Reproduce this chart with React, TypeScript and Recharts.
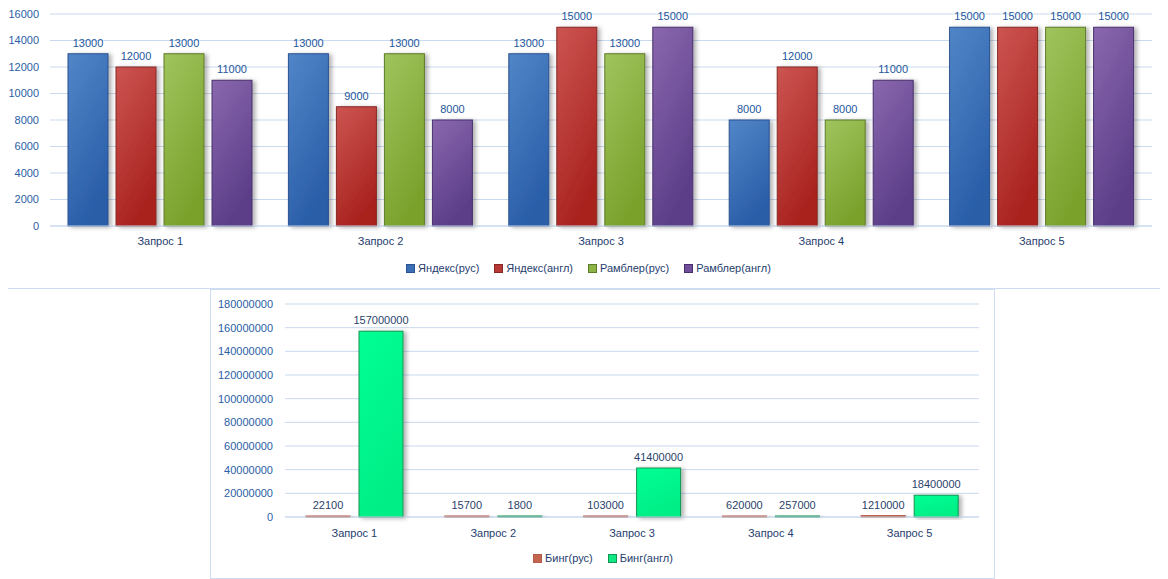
import React from 'react';
import { BarChart, Bar, XAxis, YAxis, CartesianGrid, Legend, LabelList } from 'recharts';

const categories = ['Запрос 1', 'Запрос 2', 'Запрос 3', 'Запрос 4', 'Запрос 5'];

const yandexRus = [13000, 13000, 13000, 8000, 15000];
const yandexEng = [12000, 9000, 15000, 12000, 15000];
const ramblerRus = [13000, 13000, 13000, 8000, 15000];
const ramblerEng = [11000, 8000, 15000, 11000, 15000];
const topTicks = [0, 2000, 4000, 6000, 8000, 10000, 12000, 14000, 16000];

const bingRus = [22100, 15700, 103000, 620000, 1210000];
const bingEng = [157000000, 1800, 41400000, 257000, 18400000];
const bottomTicks = [0, 20000000, 40000000, 60000000, 80000000, 100000000, 120000000, 140000000, 160000000, 180000000];

const topData = categories.map((name, i) => ({
  name,
  yr: yandexRus[i],
  ye: yandexEng[i],
  rr: ramblerRus[i],
  re: ramblerEng[i],
}));

const bottomData = categories.map((name, i) => ({
  name,
  br: bingRus[i],
  be: bingEng[i],
}));

const FONT = '"Liberation Sans", Arial, sans-serif';
const GRID = '#c9d9ee';
const BORDER = '#cddcf0';

const topSeries = [
  { key: 'yr', name: 'Яндекс(рус)', light: '#5186c8', dark: '#2a5ea8', edge: '#2a5190', swatch: '#3a6fb5' },
  { key: 'ye', name: 'Яндекс(англ)', light: '#cc5552', dark: '#a9231f', edge: '#862824', swatch: '#b83a36' },
  { key: 'rr', name: 'Рамблер(рус)', light: '#a0c45e', dark: '#7aa22c', edge: '#5d7a28', swatch: '#8db446' },
  { key: 're', name: 'Рамблер(англ)', light: '#8a68ae', dark: '#5b3d88', edge: '#47306c', swatch: '#714f9c' },
];

const bottomSeries = [
  { key: 'br', name: 'Бинг(рус)', light: '#d0806c', dark: '#b8503e', edge: '#b85c48', swatch: '#c4664f' },
  { key: 'be', name: 'Бинг(англ)', light: '#00ff94', dark: '#00ee86', edge: '#129452', swatch: '#10e884' },
];

const ShadowBar = (props: any) => {
  const { x, y, width, height, fill, stroke } = props;
  if (!width || height == null) return null;
  const h = Math.max(height, 0);
  return (
    <rect x={x} y={y} width={width} height={h} fill={fill} stroke={stroke} strokeWidth={1} filter="url(#barShadow)" />
  );
};

const makeLegend = (series: typeof topSeries, padLeft: number) => () => (
  <div style={{ display: 'flex', justifyContent: 'center', alignItems: 'center', height: 20, paddingLeft: padLeft, fontFamily: FONT, fontSize: 11, color: '#1f3d6e' }}>
    {series.map((s, i) => (
      <div key={s.key} style={{ display: 'flex', alignItems: 'center', marginRight: i < series.length - 1 ? 15 : 0 }}>
        <span style={{ display: 'inline-block', width: 7, height: 7, background: s.swatch, border: `1px solid ${s.edge}`, marginRight: 3 }} />
        <span>{s.name}</span>
      </div>
    ))}
  </div>
);

const Defs = ({ series }: { series: typeof topSeries }) => (
  <defs>
    <filter id="barShadow" x="-20%" y="-5%" width="150%" height="115%">
      <feDropShadow dx="3" dy="1" stdDeviation="2" floodColor="#000" floodOpacity="0.3" />
    </filter>
    {series.map((s) => (
      <linearGradient key={s.key} id={`g-${s.key}`} x1="0" y1="0" x2="0.4" y2="1">
        <stop offset="0%" stopColor={s.light} />
        <stop offset="100%" stopColor={s.dark} />
      </linearGradient>
    ))}
  </defs>
);

export default function App() {
  return (
    <div style={{ position: 'relative', width: 1168, height: 579, fontFamily: FONT }}>
      <div style={{ position: 'absolute', left: -8, top: -8, width: 1165, height: 287, border: `1px solid ${BORDER}`, background: '#fff' }}>
        <BarChart width={1165} height={287} data={topData} margin={{ top: 13, right: 14, bottom: 10, left: 0 }} barCategoryGap={18} barGap={8}>
          <Defs series={topSeries} />
          <CartesianGrid vertical={false} stroke={GRID} />
          <XAxis dataKey="name" axisLine={{ stroke: GRID }} tickLine={false} height={32} tickMargin={5} tick={{ fill: '#1f3d6e', fontSize: 11, fontFamily: FONT }} />
          <YAxis width={49} domain={[0, 16000]} ticks={topTicks} axisLine={false} tickLine={false} tickMargin={5} tick={{ fill: '#2a5ea6', fontSize: 11, fontFamily: FONT }} />
          <Legend verticalAlign="bottom" content={makeLegend(topSeries, 24)} />
          {topSeries.map((s) => (
            <Bar key={s.key} dataKey={s.key} name={s.name} fill={`url(#g-${s.key})`} stroke={s.edge} shape={ShadowBar} isAnimationActive={false}>
              <LabelList dataKey={s.key} position="top" offset={7} fill="#24579c" fontSize={11} fontFamily={FONT} />
            </Bar>
          ))}
        </BarChart>
      </div>
      <div style={{ position: 'absolute', left: 202, top: 281, width: 783, height: 288, border: `1px solid ${BORDER}`, background: '#fff' }}>
        <BarChart width={783} height={288} data={bottomData} margin={{ top: 14, right: 15, bottom: 10, left: 0 }} barCategoryGap={21} barGap={9}>
          <Defs series={bottomSeries} />
          <CartesianGrid vertical={false} stroke={GRID} />
          <XAxis dataKey="name" axisLine={{ stroke: GRID }} tickLine={false} height={31} tickMargin={6} tick={{ fill: '#1f3d6e', fontSize: 11, fontFamily: FONT }} />
          <YAxis width={74} domain={[0, 180000000]} ticks={bottomTicks} axisLine={false} tickLine={false} tickMargin={6} tick={{ fill: '#2a5ea6', fontSize: 11, fontFamily: FONT }} />
          <Legend verticalAlign="bottom" content={makeLegend(bottomSeries, 16)} />
          {bottomSeries.map((s) => (
            <Bar key={s.key} dataKey={s.key} name={s.name} fill={`url(#g-${s.key})`} stroke={s.edge} shape={ShadowBar} minPointSize={1} isAnimationActive={false}>
              <LabelList dataKey={s.key} position="top" offset={7} fill="#2b3f6b" fontSize={11} fontFamily={FONT} />
            </Bar>
          ))}
        </BarChart>
      </div>
    </div>
  );
}
